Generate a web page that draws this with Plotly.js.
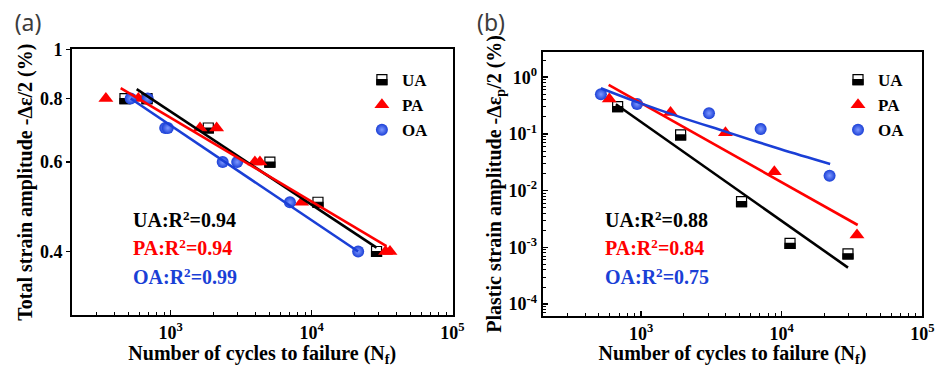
<!DOCTYPE html>
<html>
<head>
<meta charset="utf-8">
<script src="https://cdn.plot.ly/plotly-3.0.1.min.js"></script>
<style>
  html, body { margin: 0; padding: 0; background: #fff; }
  #wrap { position: relative; width: 940px; height: 367px; }
  #chart { width: 940px; height: 367px; }
  .lbl { position: absolute; white-space: nowrap; line-height: 24px; height: 24px;
         font-family: "Liberation Serif", serif; font-weight: bold; font-size: 20px; }
  .lbl sup { font-size: 0.66em; vertical-align: 0.5em; line-height: 0; }
  .panel { position: absolute; white-space: nowrap; line-height: 28px; height: 28px;
           font-family: "Noto Sans", sans-serif; font-size: 23px; color: #3c3c3c; transform: translateX(-50%); }
  #chart .xtick text, #chart .ytick text, #chart .x2tick text, #chart .y2tick text {
    font-family: "Liberation Serif", serif !important;
    font-weight: bold !important;
    font-size: 18px !important;
    fill: #000 !important;
  }
</style>
</head>
<body>
<div id="wrap">
  <div id="chart"></div>
</div>
<script>
// ---------- Data ----------
// Panel (a): total strain amplitude vs cycles to failure
const uaCyclesA = [474, 680, 1850, 5060, 11100, 28900];
const uaStrainA = [0.8, 0.8, 0.7, 0.6, 0.5, 0.4];
const paCyclesA = [347, 590, 1615, 2120, 3960, 4300, 8500, 33500, 36000];
const paStrainA = [0.8, 0.8, 0.7, 0.7, 0.6, 0.6, 0.5, 0.4, 0.4];
const oaCyclesA = [520, 687, 915, 955, 2340, 2965, 7020, 21400];
const oaStrainA = [0.8, 0.8, 0.7, 0.7, 0.6, 0.6, 0.5, 0.4];
// fitted lines (a)
const uaFitCyclesA = [574, 28900];
const uaFitStrainA = [0.835, 0.407];
const paFitCyclesA = [442, 34000];
const paFitStrainA = [0.839, 0.41];
const oaFitCyclesA = [520, 21400];
const oaFitStrainA = [0.80, 0.40];

// Panel (b): plastic strain amplitude vs cycles to failure
const uaCyclesB = [681, 1910, 5180, 11460, 29600];
const uaStrainB = [0.303, 0.096, 0.0064, 0.00118, 0.00077];
const paCyclesB = [594, 1620, 3980, 8860, 34300];
const paStrainB = [0.414, 0.238, 0.105, 0.0216, 0.00166];
const oaCyclesB = [518, 936, 3040, 7080, 21900];
const oaStrainB = [0.50, 0.338, 0.232, 0.122, 0.0184];
// fitted lines (b)
const uaFitCyclesB = [662, 29600];
const uaFitStrainB = [0.334, 0.00044];
const paFitCyclesB = [588, 34700];
const paFitStrainB = [0.731, 0.00248];
const oaFitCyclesB = [518, 921, 1878, 3935, 9720, 22100];
const oaFitStrainB = [0.64, 0.371, 0.20, 0.111, 0.0544, 0.0296];

// Labels
const seriesNames = ['UA', 'PA', 'OA'];
const r2TextA = ['UA:R<sup>2</sup>=0.94', 'PA:R<sup>2</sup>=0.94', 'OA:R<sup>2</sup>=0.99'];
const r2TextB = ['UA:R<sup>2</sup>=0.88', 'PA:R<sup>2</sup>=0.84', 'OA:R<sup>2</sup>=0.75'];
const xTickVals = [1e3, 1e4, 1e5];
const xTickText = ['10<sup>3</sup>', '10<sup>4</sup>', '10<sup>5</sup>'];
const yTickValsA = [0.4, 0.6, 0.8, 1];
const yTickTextA = ['0.4', '0.6', '0.8', '1'];
const yTickValsB = [1e-4, 1e-3, 1e-2, 1e-1, 1];
const yTickTextB = ['10<sup>-4</sup>', '10<sup>-3</sup>', '10<sup>-2</sup>', '10<sup>-1</sup>', '10<sup>0</sup>'];
const xTitle = 'Number of cycles to failure (N<sub>f</sub>)';
const yTitleA = 'Total strain amplitude -Δε/2 (%)';
const yTitleB = 'Plastic strain amplitude -Δε<sub>p</sub>/2 (%)';
const panelLabels = ['(a)', '(b)'];

// ---------- Styles ----------
const BLACK = '#000000';
const RED = '#ff0000';
const BLUE = '#1a3fd6';
const HALF = 'rgb(254,254,254)'; // marker fill for half-filled squares
const SERIF = 'Liberation Serif';
const colors = [BLACK, RED, BLUE];

function uaMarkers(x, y, xa, ya, lg) {
  return { x, y, xaxis: xa, yaxis: ya, type: 'scatter', mode: 'markers', name: seriesNames[0],
    legend: lg, showlegend: true,
    marker: { symbol: 'square', size: 10, color: HALF, line: { color: BLACK, width: 1.2 } } };
}
function paMarkers(x, y, xa, ya, lg) {
  return { x, y, xaxis: xa, yaxis: ya, type: 'scatter', mode: 'markers', name: seriesNames[1],
    legend: lg, showlegend: true,
    marker: { symbol: 'triangle-up', size: 13, color: RED, line: { width: 0 } } };
}
function oaMarkers(x, y, xa, ya, lg) {
  return { x, y, xaxis: xa, yaxis: ya, type: 'scatter', mode: 'markers', name: seriesNames[2],
    legend: lg, showlegend: true,
    marker: { symbol: 'circle', size: 12, color: BLUE, line: { width: 0 },
      gradient: { type: 'radial', color: '#7d98ff' } } };
}
function fitLine(x, y, xa, ya, color, shape) {
  return { x, y, xaxis: xa, yaxis: ya, type: 'scatter', mode: 'lines', showlegend: false,
    hoverinfo: 'skip', line: { color, width: 2.6, shape: shape || 'linear', smoothing: 1 } };
}

const data = [
  uaMarkers(uaCyclesA, uaStrainA, 'x', 'y', 'legend'),
  paMarkers(paCyclesA, paStrainA, 'x', 'y', 'legend'),
  oaMarkers(oaCyclesA, oaStrainA, 'x', 'y', 'legend'),
  fitLine(uaFitCyclesA, uaFitStrainA, 'x', 'y', BLACK),
  fitLine(paFitCyclesA, paFitStrainA, 'x', 'y', RED),
  fitLine(oaFitCyclesA, oaFitStrainA, 'x', 'y', BLUE),

  uaMarkers(uaCyclesB, uaStrainB, 'x2', 'y2', 'legend2'),
  paMarkers(paCyclesB, paStrainB, 'x2', 'y2', 'legend2'),
  oaMarkers(oaCyclesB, oaStrainB, 'x2', 'y2', 'legend2'),
  fitLine(uaFitCyclesB, uaFitStrainB, 'x2', 'y2', BLACK),
  fitLine(paFitCyclesB, paFitStrainB, 'x2', 'y2', RED),
  fitLine(oaFitCyclesB, oaFitStrainB, 'x2', 'y2', BLUE, 'spline')
];

function tickFont() { return { family: SERIF, size: 18, weight: 'bold', color: BLACK }; }
function titleFont() { return { family: SERIF, size: 20, weight: 'bold', color: BLACK }; }

function xAxis(domain, anchor) {
  return {
    type: 'log', range: [2.3, 5], domain, anchor,
    showline: true, linecolor: BLACK, linewidth: 2, mirror: true,
    ticks: 'inside', ticklen: 5, tickwidth: 1.5, tickcolor: BLACK,
    tickmode: 'array', tickvals: xTickVals, ticktext: xTickText,
    minor: { ticks: 'inside', ticklen: 3, tickwidth: 1, tickcolor: BLACK, dtick: 'D1', showgrid: false },
    showgrid: false, zeroline: false, automargin: false,
    tickfont: tickFont(),
    title: { text: xTitle, font: titleFont(), standoff: 0 }
  };
}

const layout = {
  width: 940, height: 367,
  margin: { l: 0, r: 0, t: 0, b: 0 },
  paper_bgcolor: '#ffffff', plot_bgcolor: '#ffffff',
  font: { family: SERIF, size: 18, weight: 'bold', color: BLACK },
  xaxis: xAxis([0.0766, 0.4814], 'y'),
  xaxis2: xAxis([0.5773, 0.9812], 'y2'),
  yaxis: {
    type: 'log', range: [Math.log10(0.3), 0], domain: [0.1417, 0.8657], anchor: 'x',
    showline: true, linecolor: BLACK, linewidth: 2, mirror: true,
    ticks: 'outside', ticklen: 4, tickwidth: 1.5, tickcolor: BLACK,
    tickmode: 'array', tickvals: yTickValsA, ticktext: yTickTextA,
    showgrid: false, zeroline: false, automargin: false,
    tickfont: tickFont(),
    title: { text: yTitleA, font: titleFont(), standoff: 2 }
  },
  yaxis2: {
    type: 'log', range: [-4.21, 0.45], domain: [0.1390, 0.8591], anchor: 'x2',
    showline: true, linecolor: BLACK, linewidth: 2, mirror: true,
    ticks: 'inside', ticklen: 5, tickwidth: 1.5, tickcolor: BLACK,
    tickmode: 'array', tickvals: yTickValsB, ticktext: yTickTextB,
    minor: { ticks: 'inside', ticklen: 3, tickwidth: 1, tickcolor: BLACK, dtick: 'D1', showgrid: false },
    showgrid: false, zeroline: false, automargin: false,
    tickfont: tickFont(),
    title: { text: yTitleB, font: titleFont(), standoff: 2 }
  },
  legend: {
    x: 0.385, y: 0.831, xanchor: 'left', yanchor: 'top',
    bgcolor: 'rgba(0,0,0,0)', borderwidth: 0, tracegroupgap: 0,
    font: { family: SERIF, size: 17, weight: 'bold', color: BLACK }
  },
  legend2: {
    x: 0.8915, y: 0.831, xanchor: 'left', yanchor: 'top',
    bgcolor: 'rgba(0,0,0,0)', borderwidth: 0, tracegroupgap: 0,
    font: { family: SERIF, size: 17, weight: 'bold', color: BLACK }
  }
};

// R² labels and panel letters as text placed over the figure
const wrap = document.getElementById('wrap');
const annTops = [220, 248, 277];
function addLabel(html, left, centerY, color) {
  const d = document.createElement('div');
  d.className = 'lbl';
  d.innerHTML = html;
  d.style.left = left + 'px';
  d.style.top = (centerY - 12) + 'px';
  d.style.color = color;
  wrap.appendChild(d);
}
r2TextA.forEach((t, i) => addLabel(t, 133, annTops[i], colors[i]));
r2TextB.forEach((t, i) => addLabel(t, 605, annTops[i], colors[i]));
[[28, panelLabels[0]], [491, panelLabels[1]]].forEach(([x, t]) => {
  const d = document.createElement('div');
  d.className = 'panel';
  d.textContent = t;
  d.style.left = x + 'px';
  d.style.top = (22 - 14) + 'px';
  wrap.appendChild(d);
});

Plotly.newPlot('chart', data, layout, { staticPlot: true, displayModeBar: false }).then(gd => {
  // keep tick labels in the bold serif face
  gd.querySelectorAll('.xtick text, .ytick text, .x2tick text, .y2tick text').forEach(t => {
    t.style.fontFamily = '"Liberation Serif"';
    t.style.fontWeight = 'bold';
    t.style.fontSize = '18px';
    t.style.fill = '#000';
  });
  // turn the UA squares into half-filled squares (black bottom half)
  gd.querySelectorAll('path').forEach(p => {
    if (p.style.fill === 'rgb(254, 254, 254)') {
      const d = p.getAttribute('d') || '';
      const r = parseFloat(d.slice(1));
      if (!isFinite(r)) return;
      const half = document.createElementNS('http://www.w3.org/2000/svg', 'path');
      half.setAttribute('d', 'M' + r + ',' + r + 'H' + (-r) + 'V0H' + r + 'Z');
      const tr = p.getAttribute('transform');
      if (tr) half.setAttribute('transform', tr);
      half.setAttribute('style', 'fill:#000;stroke:#000;stroke-width:1.2px;opacity:1');
      p.parentNode.insertBefore(half, p.nextSibling);
    }
  });
});
</script>
</body>
</html>
